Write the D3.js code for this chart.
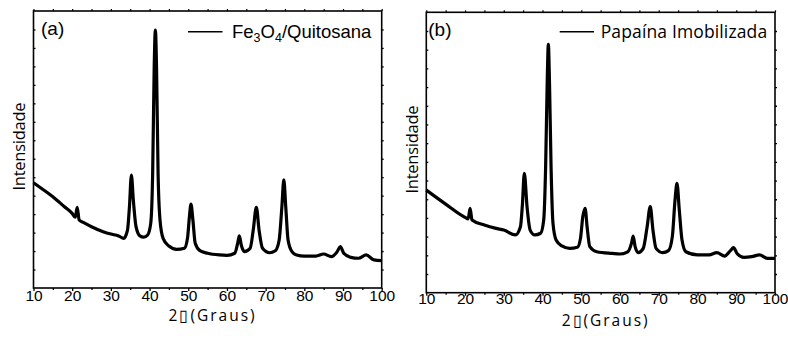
<!DOCTYPE html>
<html><head><meta charset="utf-8">
<script src="https://cdn.jsdelivr.net/npm/d3@7"></script>
<style>body{margin:0;background:#fff}svg{display:block}</style>
</head><body><svg id="c" width="788" height="345"></svg>
<script>
// ---- data ----
const thetaA = [10,12,15,18,20,20.8,21.3,21.8,23,25,28,30,32,33.3,34.3,34.8,35.3,35.8,36.5,37.5,38.5,39.5,40.3,40.8,41.2,41.5,41.8,42.2,42.7,43.5,45,47,49,49.8,50.3,50.7,51.2,51.8,53,55,58,60,62,62.8,63.2,63.7,64.5,66,66.8,67.6,68.3,69.2,71,72.5,73.5,74.2,74.7,75.2,75.8,76.8,78,80,83,85,87,88.5,89.3,90.2,92,94,96,98,100];
const intensityA = [570,540,494,440,404,383,437,368,354,332,305,292,282,269,314,440,612,477,332,282,275,287,350,621,1198,1397,1198,621,368,269,227,209,215,269,386,455,368,242,202,188,179,177,188,245,282,233,197,215,314,437,314,215,191,202,260,440,585,440,260,197,179,173,173,184,170,197,224,188,166,161,179,152,148];
const thetaB = [10,15,20,20.8,21.3,21.8,25,28,30,33,34.3,34.8,35.3,36,36.8,38,39.5,40.3,40.8,41.2,41.5,41.8,42.2,42.7,43.5,45,47,49,49.8,50.4,51,51.5,52.2,54,58,60,62,63,63.4,63.9,64.7,66,67,67.8,68.5,69.3,71,72.5,73.5,74.2,74.7,75.3,76,77,80,83,85,87,88.5,89.3,90.2,92,94,96,98,100];
const intensityB = [549,474,403,395,451,389,362,344,335,309,353,470,639,460,335,309,318,389,674,1120,1329,1120,674,371,282,250,237,243,291,407,451,353,246,219,210,207,219,268,303,246,214,237,353,460,335,237,214,225,300,496,585,442,282,219,202,202,214,196,225,241,210,189,193,202,184,184];
const xTickValues = [10,20,30,40,50,60,70,80,90,100];
const xMinorValues = [15,25,35,45,55,65,75,85,95];
const yTickValues = [100,200,300,400,500,600,700,800,900,1000,1100,1200,1300,1400];
const panelLabels = ["(a)", "(b)"];
const legendLabels = ["Fe3O4/Quitosana", "Papaína Imobilizada"];
const xTitle = "2\u25AF(Graus)";
const yTitle = "Intensidade";

const svg = d3.select("#c");
svg.append("rect").attr("width",788).attr("height",345).attr("fill","#fff");

const panels = [
  {l:33.5, r:381.7, t:11, b:288, th:thetaA, iy:intensityA, idx:0, xtBase:321, pad:-1.3},
  {l:426.3, r:775, t:12.3, b:292.7, th:thetaB, iy:intensityB, idx:1, xtBase:325.5, pad:-3}
];

panels.forEach(p => {
  const g = svg.append("g");
  const x = d3.scaleLinear().domain([10,100]).range([p.l,p.r]);
  const y = d3.scaleLinear().domain([0,1500]).range([p.b,p.t]);

  // data line
  const pts = p.th.map((t,i)=>[t,p.iy[i]]);
  g.append("path").datum(pts)
    .attr("d", d3.line().x(d=>x(d[0])).y(d=>y(d[1])).curve(d3.curveMonotoneX))
    .attr("fill","none").attr("stroke","#000").attr("stroke-width",3.2)
    .attr("stroke-linejoin","round");

  // bottom axis
  const xa = g.append("g").attr("transform",`translate(0,${p.b})`)
    .call(d3.axisBottom(x).tickValues(xTickValues).tickSize(3).tickFormat(d3.format("d")).tickPadding(p.pad));
  xa.select(".domain").remove();
  xa.selectAll("line").attr("stroke-width",1.3);
  xa.selectAll("text").attr("font-family","'Liberation Sans', Arial, sans-serif").attr("font-size",15.5).attr("fill","#000");
  const xm = g.append("g").attr("transform",`translate(0,${p.b})`)
    .call(d3.axisBottom(x).tickValues(xMinorValues).tickSize(2).tickFormat(""));
  xm.select(".domain").remove();
  xm.selectAll("line").attr("stroke-width",1.3);
  // top ticks
  const xt = g.append("g").attr("transform",`translate(0,${p.t})`)
    .call(d3.axisTop(x).tickValues(xTickValues.concat(xMinorValues)).tickSize(2).tickFormat(""));
  xt.select(".domain").remove();
  xt.selectAll("line").attr("stroke-width",1.2);
  // left/right ticks
  const yl = g.append("g").attr("transform",`translate(${p.l},0)`)
    .call(d3.axisRight(y).tickValues(yTickValues).tickSize(2).tickFormat(""));
  yl.select(".domain").remove();
  yl.selectAll("line").attr("stroke-width",1.3);
  const yr = g.append("g").attr("transform",`translate(${p.r},0)`)
    .call(d3.axisRight(y).tickValues(yTickValues).tickSize(2).tickFormat(""));
  yr.select(".domain").remove();
  yr.selectAll("line").attr("stroke-width",1.3);

  // frame
  g.append("rect").attr("x",p.l).attr("y",p.t).attr("width",p.r-p.l).attr("height",p.b-p.t)
    .attr("fill","none").attr("stroke","#000").attr("stroke-width",1.6);

  // panel label
  g.append("text").attr("x",p.l + (p.idx?2:7.5)).attr("y",p.t+23.5)
    .attr("font-family","'Liberation Sans', Arial, sans-serif").attr("font-size",19)
    .text(panelLabels[p.idx]);

  // legend
  const lx0 = p.idx ? 559.7 : 188, lx1 = p.idx ? 594 : 222.5;
  g.append("line").attr("x1",lx0).attr("x2",lx1).attr("y1",31.7).attr("y2",31.7)
    .attr("stroke","#000").attr("stroke-width",1.4);
  if (p.idx === 0) {
    const t = g.append("text").attr("x",232).attr("y",37.5)
      .attr("font-family","'Liberation Sans', Arial, sans-serif").attr("font-size",18.5);
    t.append("tspan").text("Fe");
    t.append("tspan").attr("font-size",12.5).attr("dy",4).text("3");
    t.append("tspan").attr("dy",-4).text("O");
    t.append("tspan").attr("font-size",12.5).attr("dy",4).text("4");
    t.append("tspan").attr("dy",-4).text("/Quitosana");
  } else {
    g.append("text").attr("x",600.7).attr("y",37.5)
      .attr("font-family","'Open Sans', sans-serif").attr("font-size",17.5)
      .attr("textLength",166.5).attr("lengthAdjust","spacing")
      .text(legendLabels[1]);
  }

  // axis titles
  const cx = (p.l+p.r)/2;
  g.append("text").attr("x",cx + 4).attr("y",p.xtBase).attr("text-anchor","middle")
    .attr("font-family","'Open Sans', sans-serif").attr("font-size",15.5)
    .attr("textLength",86).attr("lengthAdjust","spacing")
    .text(xTitle);
  const cy = (p.t+p.b)/2;
  g.append("text").attr("transform",`translate(${p.l-8.5},${cy-3}) rotate(-90)`)
    .attr("text-anchor","middle")
    .attr("font-family","'Open Sans', sans-serif").attr("font-size",16.5)
    .attr("textLength",88).attr("lengthAdjust","spacing")
    .text(yTitle);
});
</script></body></html>
